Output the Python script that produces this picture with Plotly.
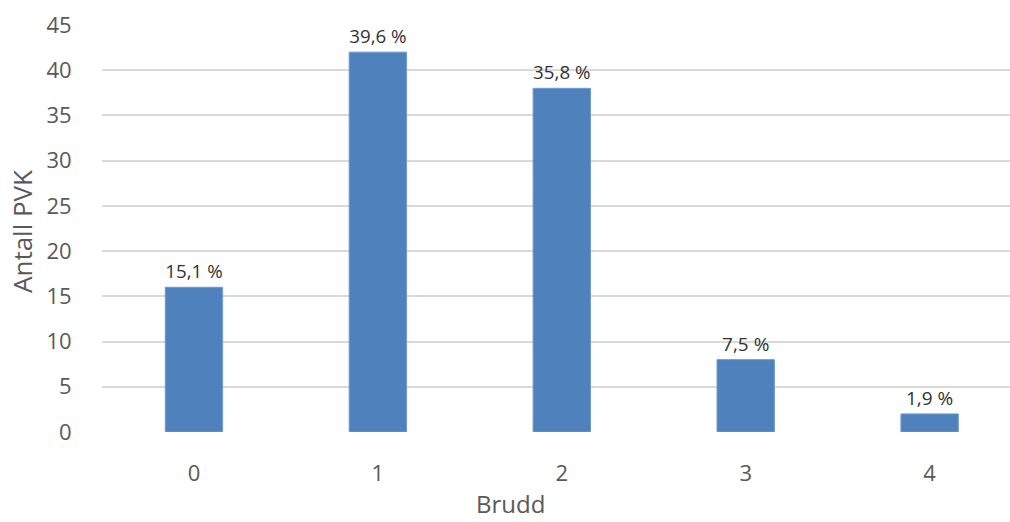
import plotly.graph_objects as go

# Number of fractures per PVK
brudd = [0, 1, 2, 3, 4]
antall_pvk = [16, 42, 38, 8, 2]
andel_tekst = ["15,1 %", "39,6 %", "35,8 %", "7,5 %", "1,9 %"]

y_ticks = [0, 5, 10, 15, 20, 25, 30, 35, 40, 45]

FONT = "Open Sans"
TICK_COLOR = "#595959"

fig = go.Figure(
    go.Bar(
        x=brudd,
        y=antall_pvk,
        text=andel_tekst,
        textposition="outside",
        textfont=dict(family=FONT, size=19, color="#333333"),
        marker=dict(color="#4f81bd", line=dict(color="#6f9bd1", width=1)),
        width=0.312,
        cliponaxis=False,
        hoverinfo="skip",
    )
)

fig.update_layout(
    width=1010,
    height=522,
    margin=dict(l=102, r=0, t=25, b=90),
    paper_bgcolor="white",
    plot_bgcolor="white",
    showlegend=False,
    font=dict(family=FONT, color=TICK_COLOR),
    xaxis=dict(
        range=[-0.5, 4.437],
        tickvals=brudd,
        ticktext=[str(b) for b in brudd],
        tickfont=dict(size=22, color=TICK_COLOR),
        showgrid=False,
        zeroline=False,
        showline=False,
        ticks="outside",
        ticklen=22,
        tickcolor="rgba(0,0,0,0)",
    ),
    yaxis=dict(
        range=[0, 45],
        tickvals=y_ticks,
        tickfont=dict(size=22, color=TICK_COLOR),
        showgrid=True,
        gridcolor="#d9d9d9",
        gridwidth=2,
        zeroline=False,
        showline=False,
        ticks="outside",
        ticklen=25,
        tickcolor="rgba(0,0,0,0)",
    ),
)

# Axis titles placed in pixel terms relative to the plot area
plot_w = 1010 - 102
plot_h = 522 - 25 - 90
fig.add_annotation(
    text="Brudd",
    xref="paper", yref="paper",
    x=(510 - 102) / plot_w, y=-(521 - (522 - 90)) / plot_h,
    xanchor="center", yanchor="bottom",
    borderpad=0,
    showarrow=False,
    font=dict(size=24, color=TICK_COLOR),
)
fig.add_annotation(
    text="Antall PVK",
    textangle=-90,
    xref="paper", yref="paper",
    x=(22 - 102) / plot_w, y=1 - (232 - 25) / plot_h,
    xanchor="center", yanchor="middle",
    showarrow=False,
    font=dict(size=26, color=TICK_COLOR),
)

fig.write_html("out.html")
